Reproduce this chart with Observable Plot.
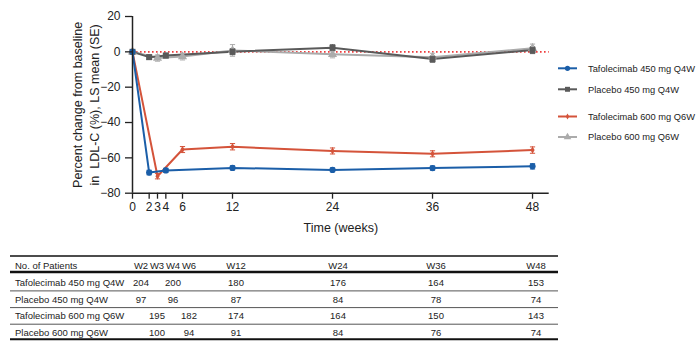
<!DOCTYPE html>
<html><head><meta charset="utf-8">
<script src="https://cdn.jsdelivr.net/npm/d3@7"></script>
<script src="https://cdn.jsdelivr.net/npm/@observablehq/plot@0.6"></script>
<style>
body{margin:0;background:#fff;font-family:"Liberation Sans",Arial,sans-serif;}
#wrap{position:relative;width:700px;height:344px;overflow:hidden;}
#wrap svg{display:block}
#legend{position:absolute;left:0;top:0;}
</style></head><body><div id="wrap"></div>
<script>
// ---- data ----
const seriesNames = ["Tafolecimab 450 mg Q4W", "Placebo 450 mg Q4W", "Tafolecimab 600 mg Q6W", "Placebo 600 mg Q6W"];
const weeksQ4W = [0, 2, 4, 12, 24, 36, 48];
const weeksQ6W = [0, 3, 6, 12, 24, 36, 48];
const tafo450   = [0, -68.3, -67.1, -65.7, -66.8, -65.8, -64.8];
const tafo450SE = [0, 1.3, 1.2, 1.2, 1.1, 1.2, 1.5];
const pbo450    = [0, -3.0, -2.1, 0.1, 2.3, -4.1, 1.0];
const pbo450SE  = [0, 1.2, 1.3, 1.7, 1.7, 1.8, 2.0];
const tafo600   = [0, -70.4, -55.3, -53.7, -56.1, -57.7, -55.6];
const tafo600SE = [0, 1.5, 1.7, 1.8, 1.7, 1.7, 1.8];
const pbo600    = [0, -3.5, -2.7, 0.8, -1.4, -3.0, 2.0];
const pbo600SE  = [0, 1.8, 1.9, 3.3, 2.0, 2.2, 2.4];
const xTicks = [0, 2, 3, 4, 6, 12, 24, 36, 48];
const yTicks = [20, 0, -20, -40, -60, -80];
const xLabel = "Time (weeks)";
const yLabel = "Percent change from baseline\nin  LDL-C (%), LS mean (SE)";

const tableHeader = "No. of Patients";
const tableCols = ["W2", "W3", "W4", "W6", "W12", "W24", "W36", "W48"];
const nTafo450 = [204, null, 200, null, 180, 176, 164, 153];
const nPbo450  = [97, null, 96, null, 87, 84, 78, 74];
const nTafo600 = [null, 195, null, 182, 174, 164, 150, 143];
const nPbo600  = [null, 100, null, 94, 91, 84, 76, 74];

// ---- styles ----
const seriesColors = ["#1b5ea8", "#5a5a5a", "#d4533a", "#ababab"];
const seriesSymbols = ["circle", "square", "diamond", "triangle"];
const dotR = [3.1, 3.4, 2.2, 3.4];
const drawOrder = [3, 1, 2, 0];

const seriesWeeks = [weeksQ4W, weeksQ4W, weeksQ6W, weeksQ6W];
const seriesMeans = [tafo450, pbo450, tafo600, pbo600];
const seriesSE = [tafo450SE, pbo450SE, tafo600SE, pbo600SE];

const data = drawOrder.flatMap(i => seriesWeeks[i].map((w, j) => ({
  series: seriesNames[i], idx: i, week: w, value: seriesMeans[i][j], se: seriesSE[i][j]
})));
const dataE = data.filter(d => d.se > 0);

const capSymbol = {draw(ctx, size) { const w = 2.6; ctx.moveTo(-w, 0); ctx.lineTo(w, 0); }};

const dotMarks = drawOrder.map(i => Plot.dot(data.filter(d => d.idx === i), {
  x: "week", y: "value", symbol: "series", fill: "series", r: dotR[i]
}));

const chart = Plot.plot({
  width: 700, height: 240,
  marginLeft: 132, marginRight: 151.3, marginTop: 16, marginBottom: 47.3,
  style: {fontFamily: "'Liberation Sans', Arial, sans-serif", fontSize: "12px", color: "#222", background: "transparent"},
  x: {domain: [0, 50]},
  y: {domain: [-80, 20]},
  color: {domain: seriesNames, range: seriesColors},
  symbol: {domain: seriesNames, range: seriesSymbols},
  marks: [
    Plot.ruleY([0], {stroke: "#ee3b3b", strokeWidth: 1.7, strokeDasharray: "1.6,2.4"}),
    Plot.line(data, {x: "week", y: "value", z: "series", stroke: "series", strokeWidth: 2}),
    Plot.ruleX(dataE, {x: "week", y1: d => d.value - d.se, y2: d => d.value + d.se, stroke: "series", strokeWidth: 1}),
    Plot.dot(dataE, {x: "week", y: d => d.value + d.se, symbol: capSymbol, stroke: "series", fill: "none", strokeWidth: 1}),
    Plot.dot(dataE, {x: "week", y: d => d.value - d.se, symbol: capSymbol, stroke: "series", fill: "none", strokeWidth: 1}),
    ...dotMarks,
    Plot.ruleX([0], {stroke: "#222", strokeWidth: 1.5}),
    Plot.ruleY([-80], {stroke: "#222", strokeWidth: 1.5}),
    Plot.axisX({ticks: xTicks, tickSize: 6, tickPadding: 3, label: null, fontSize: 12, strokeWidth: 1.3}),
    Plot.axisY({ticks: yTicks, tickSize: 7, tickPadding: 5, label: null, fontSize: 12, strokeWidth: 1.3}),
    Plot.text([yLabel], {frameAnchor: "left", rotate: -90, dx: -47, textAnchor: "middle", lineAnchor: "middle", lineHeight: 1.35, fontSize: 12.5, fill: "#222"}),
    Plot.text([xLabel], {frameAnchor: "bottom", dy: 34.5, textAnchor: "middle", lineAnchor: "middle", fontSize: 12.5, fill: "#222"})
  ]
});

const wrap = document.getElementById("wrap");
wrap.appendChild(chart);

// ---- legend overlay ----
const legendY = [68.3, 89.3, 116.5, 137];
const legendSym = {circle: d3.symbolCircle, square: d3.symbolSquare, diamond: d3.symbolDiamond, triangle: d3.symbolTriangle};
const legendR = [2.6, 2.8, 1.8, 2.8];
const lg = d3.select(wrap).append("svg").attr("id", "legend").attr("width", 700).attr("height", 240);
seriesNames.forEach((name, i) => {
  const g = lg.append("g").attr("transform", `translate(0,${legendY[i]})`);
  g.append("line").attr("x1", 558).attr("x2", 577).attr("y1", 0).attr("y2", 0)
    .attr("stroke", seriesColors[i]).attr("stroke-width", 2);
  g.append("path").attr("transform", "translate(567.5,0)")
    .attr("d", d3.symbol(legendSym[seriesSymbols[i]], Math.PI * legendR[i] * legendR[i])())
    .attr("fill", seriesColors[i]);
  g.append("text").attr("x", 588).attr("y", 0).attr("dy", "0.35em")
    .attr("font-size", 9.3).attr("fill", "#222").text(name);
});

// ---- table ----
const colX = [141, 157, 173, 189, 236, 338, 436, 536];
const rowY = [42.5, 59.2, 75.9, 92.5];
const tableRows = [nTafo450, nPbo450, nTafo600, nPbo600];
const tb = d3.select(wrap).append("svg").attr("width", 700).attr("height", 104)
  .style("font-family", "'Liberation Sans', Arial, sans-serif").style("font-size", "9.5px");
const hline = (y, w, c) => tb.append("line").attr("x1", 10).attr("x2", 558).attr("y1", y).attr("y2", y)
  .attr("stroke", c).attr("stroke-width", w);
hline(16, 1.3, "#111");
hline(32, 2.4, "#111");
hline(50.9, 1, "#555");
hline(67.6, 1, "#555");
hline(84.2, 1, "#555");
hline(99.3, 2, "#111");
tb.append("text").attr("x", 15).attr("y", 25.7).attr("dy", "0.35em").attr("fill", "#222").text(tableHeader);
tableCols.forEach((c, j) => tb.append("text").attr("x", colX[j]).attr("y", 25.7).attr("dy", "0.35em")
  .attr("text-anchor", "middle").attr("fill", "#222").text(c));
tableRows.forEach((row, i) => {
  tb.append("text").attr("x", 15).attr("y", rowY[i]).attr("dy", "0.35em").attr("fill", "#222").text(seriesNames[i]);
  row.forEach((v, j) => {
    if (v == null) return;
    tb.append("text").attr("x", colX[j]).attr("y", rowY[i]).attr("dy", "0.35em")
      .attr("text-anchor", "middle").attr("fill", "#222").text(v);
  });
});
</script></body></html>
